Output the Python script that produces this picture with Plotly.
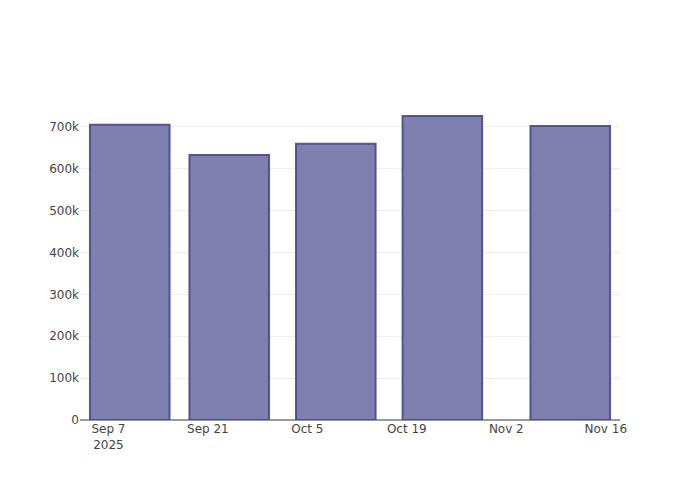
import plotly.graph_objects as go

dates = ["2025-09-10", "2025-09-24", "2025-10-09", "2025-10-24", "2025-11-11"]
values = [705000, 633000, 660000, 726000, 702000]

fig = go.Figure(go.Bar(
    x=dates, y=values,
    marker=dict(color="rgba(127,127,176,1)", line=dict(color="rgba(72,72,140,0.9)", width=2)),
))
# page body has an 8px margin; compensate so the plot area sits at 80..620 x 100..420
fig.update_layout(
    width=700, height=500,
    paper_bgcolor="white", plot_bgcolor="white",
    margin=dict(l=72, r=88, t=92, b=88),
    font=dict(family="DejaVu Sans, sans-serif", size=12, color="#444"),
    showlegend=False,
)
fig.update_xaxes(type="date", showline=False, showgrid=False, ticks="", zeroline=False)
fig.update_yaxes(showgrid=True, gridcolor="#eee", gridwidth=1, ticks="",
                 zeroline=True, zerolinecolor="#999", zerolinewidth=1.5,
                 showline=False, dtick=100000)
fig.write_html("out.html")
